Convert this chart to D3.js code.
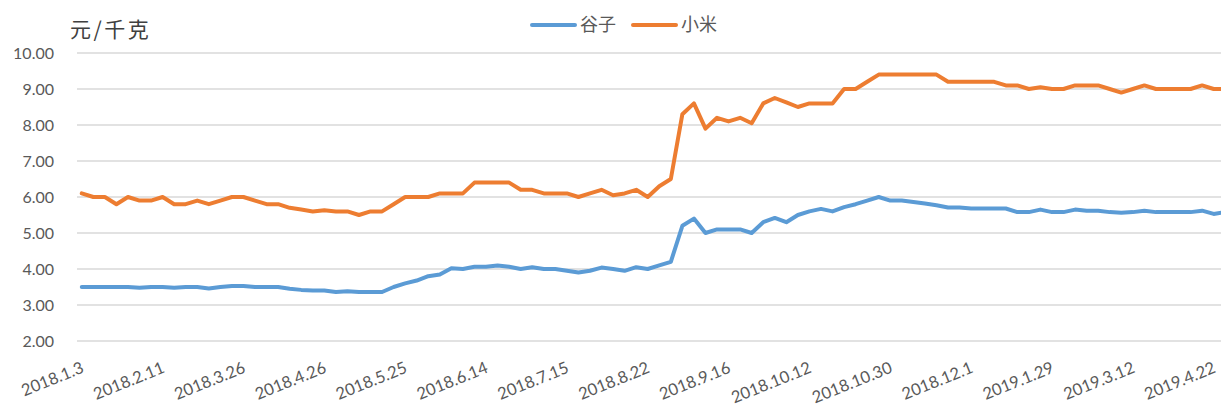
<!DOCTYPE html>
<html>
<head>
<meta charset="utf-8">
<script src="https://cdn.jsdelivr.net/npm/d3@7"></script>
<style>
  body { margin: 0; background: #fff; }
  svg { display: block; }
</style>
</head>
<body>
<div id="chart"></div>
<script>
const width = 1221;
const height = 408;

// weekly price series (元/千克), 100 observations
const guzi = [
  3.5, 3.5, 3.5, 3.5, 3.5, 3.48, 3.5, 3.5, 3.48, 3.5,
  3.5, 3.46, 3.5, 3.53, 3.53, 3.5, 3.5, 3.5, 3.45, 3.42,
  3.4, 3.4, 3.36, 3.38, 3.36, 3.36, 3.36, 3.5, 3.6, 3.68,
  3.8, 3.85, 4.02, 4.0, 4.06, 4.06, 4.1, 4.06, 4.0, 4.05,
  4.0, 4.0, 3.95, 3.9, 3.95, 4.04, 4.0, 3.95, 4.05, 4.0,
  4.1, 4.2, 5.2, 5.4, 5.0, 5.1, 5.1, 5.1, 5.0, 5.3,
  5.42, 5.3, 5.5, 5.6, 5.67, 5.6, 5.72, 5.8, 5.9, 6.0,
  5.9, 5.9, 5.86, 5.82, 5.77, 5.71, 5.71, 5.68, 5.68, 5.68,
  5.68, 5.58, 5.58, 5.65, 5.58, 5.58, 5.65, 5.62, 5.62, 5.58,
  5.56, 5.58, 5.62, 5.58, 5.58, 5.58, 5.58, 5.62, 5.53, 5.58
];
const xiaomi = [
  6.1, 6.0, 6.0, 5.8, 6.0, 5.9, 5.9, 6.0, 5.8, 5.8,
  5.9, 5.8, 5.9, 6.0, 6.0, 5.9, 5.8, 5.8, 5.7, 5.65,
  5.6, 5.63, 5.6, 5.6, 5.5, 5.6, 5.6, 5.8, 6.0, 6.0,
  6.0, 6.1, 6.1, 6.1, 6.4, 6.4, 6.4, 6.4, 6.2, 6.2,
  6.1, 6.1, 6.1, 6.0, 6.1, 6.2, 6.05, 6.1, 6.2, 6.0,
  6.3, 6.5, 8.3, 8.6, 7.9, 8.2, 8.1, 8.2, 8.05, 8.6,
  8.75, 8.63, 8.5, 8.6, 8.6, 8.6, 9.0, 9.0, 9.2, 9.4,
  9.4, 9.4, 9.4, 9.4, 9.4, 9.2, 9.2, 9.2, 9.2, 9.2,
  9.1, 9.1, 9.0, 9.05, 9.0, 9.0, 9.1, 9.1, 9.1, 9.0,
  8.9, 9.0, 9.1, 9.0, 9.0, 9.0, 9.0, 9.1, 9.0, 9.0
];
// labels shown on the category axis, one every 7 observations
const tickLabels = [
  "2018.1.3", "2018.2.11", "2018.3.26", "2018.4.26", "2018.5.25",
  "2018.6.14", "2018.7.15", "2018.8.22", "2018.9.16", "2018.10.12",
  "2018.10.30", "2018.12.1", "2019.1.29", "2019.3.12", "2019.4.22"
];
const tickStep = 7;
const yTicks = [2, 3, 4, 5, 6, 7, 8, 9, 10];

const series = [
  { name: "谷子", values: guzi, color: "#5b9bd5" },
  { name: "小米", values: xiaomi, color: "#ed7d31" }
];

const svg = d3.select("#chart")
  .append("svg")
  .attr("width", width)
  .attr("height", height);

const x = d3.scaleBand()
  .domain(d3.range(guzi.length))
  .range([76, 1231]);

const y = d3.scaleLinear()
  .domain([2, 10])
  .range([341, 53]);

const cx = i => x(i) + x.bandwidth() / 2;

// gridlines
svg.append("g")
  .selectAll("line")
  .data(yTicks)
  .join("line")
  .attr("x1", 77)
  .attr("x2", 1231)
  .attr("y1", d => y(d))
  .attr("y2", d => y(d))
  .attr("stroke", "#d9d9d9")
  .attr("stroke-width", 1.3);

// y tick labels
svg.append("g")
  .selectAll("text")
  .data(yTicks)
  .join("text")
  .attr("x", 54)
  .attr("y", d => y(d))
  .attr("dy", "0.36em")
  .attr("text-anchor", "end")
  .attr("font-family", "Lato, 'Open Sans', sans-serif")
  .attr("font-size", 16)
  .attr("fill", "#595959")
  .text(d => d.toFixed(2));

// x tick labels
svg.append("g")
  .selectAll("text")
  .data(tickLabels)
  .join("text")
  .attr("transform", (d, i) => `translate(${cx(i * tickStep) + 3},${372}) rotate(-22)`)
  .attr("text-anchor", "end")
  .attr("font-family", "Lato, 'Open Sans', sans-serif")
  .attr("font-size", 16.5)
  .attr("fill", "#595959")
  .text(d => d);

// lines
const line = d3.line()
  .x((d, i) => cx(i))
  .y(d => y(d));

svg.append("g")
  .selectAll("path")
  .data(series)
  .join("path")
  .attr("d", d => line(d.values))
  .attr("fill", "none")
  .attr("stroke", d => d.color)
  .attr("stroke-width", 4)
  .attr("stroke-linejoin", "round")
  .attr("stroke-linecap", "round");

// unit title
svg.append("text")
  .attr("x", 70)
  .attr("y", 37)
  .attr("font-family", "'Noto Sans CJK SC', sans-serif")
  .attr("font-size", 21)
  .attr("letter-spacing", 2.5)
  .attr("fill", "#404040")
  .text("元/千克");

// legend
const legend = svg.append("g")
  .selectAll("g")
  .data(series)
  .join("g")
  .attr("transform", (d, i) => `translate(${532 + i * 101},25)`);

legend.append("line")
  .attr("x1", 0)
  .attr("x2", 43)
  .attr("stroke", d => d.color)
  .attr("stroke-width", 4)
  .attr("stroke-linecap", "round");

legend.append("text")
  .attr("x", 48)
  .attr("dy", "0.35em")
  .attr("font-family", "'Noto Sans CJK SC', sans-serif")
  .attr("font-size", 18)
  .attr("fill", "#595959")
  .text(d => d.name);
</script>
</body>
</html>
